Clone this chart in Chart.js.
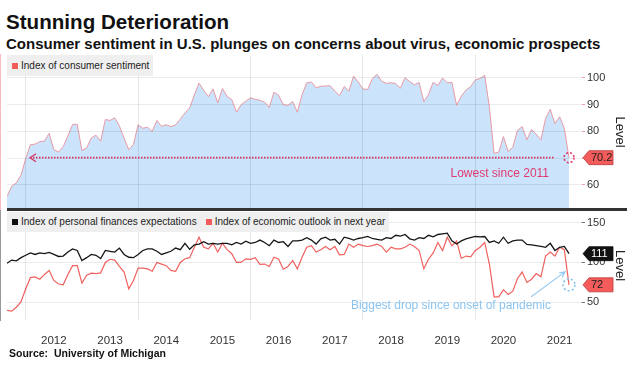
<!DOCTYPE html>
<html><head><meta charset="utf-8">
<script src="https://cdn.jsdelivr.net/npm/chart.js@4.4.1/dist/chart.umd.min.js"></script>
<style>
html,body{margin:0;padding:0;background:#fff;}
body{width:642px;height:376px;position:relative;overflow:hidden;font-family:"Liberation Sans",Arial,sans-serif;color:#111;}
#title{position:absolute;left:6px;top:10px;font-weight:bold;font-size:20.6px;line-height:24px;white-space:nowrap;}
#subtitle{position:absolute;left:6px;top:35px;font-weight:bold;font-size:15px;line-height:17px;white-space:nowrap;}
#source{position:absolute;left:9px;top:347px;font-weight:bold;font-size:10.5px;line-height:13px;white-space:nowrap;}
.box{position:absolute;left:0;width:642px;}
#topBox{top:53px;height:158px;}
#botBox{top:209px;height:167px;}
.legend{position:absolute;background:#efefef;font-size:10px;color:#222;height:21px;line-height:21px;padding:0 4px 0 5px;white-space:nowrap;z-index:3;}
.sw{display:inline-block;width:6px;height:6px;margin-right:3px;vertical-align:0px;}
#sep{position:absolute;left:7px;top:208px;width:620px;height:2.5px;background:#333;z-index:4;}
</style></head>
<body>
<div id="title">Stunning Deterioration</div>
<div id="subtitle">Consumer sentiment in U.S. plunges on concerns about virus, economic prospects</div>
<div class="box" id="topBox"><canvas id="topChart" width="642" height="158"></canvas></div>
<div class="box" id="botBox"><canvas id="botChart" width="642" height="167"></canvas></div>
<div class="legend" style="left:7px;top:55px;"><span class="sw" style="background:#f45b5b"></span>Index of consumer sentiment</div>
<div class="legend" style="left:7px;top:212px;height:20px;line-height:20px;"><span class="sw" style="background:#111"></span>Index of personal finances expectations<span class="sw" style="background:#f45b5b;margin-left:9px"></span>Index of economic outlook in next year</div>
<div id="sep"></div>
<div id="source">Source:&nbsp; University of Michigan</div>
<script>
// ---- data (monthly, Aug 2011 .. Aug 2021) ----
const startYear = 2011;
const startMonth = 8;
const sentiment = [
55.7, 59.5, 60.8, 63.7, 69.9,
75.0, 75.3, 76.2, 76.4, 79.3, 73.2, 72.3, 74.3, 78.3, 82.6, 82.7, 72.9,
73.8, 77.6, 78.6, 76.4, 84.5, 84.1, 85.1, 82.1, 77.5, 73.2, 75.1, 82.5,
81.2, 81.6, 80.0, 84.1, 81.9, 82.5, 81.8, 82.5, 84.6, 86.9, 88.8, 93.6,
98.1, 95.4, 93.0, 95.9, 90.7, 96.1, 93.1, 91.9, 87.2, 90.0, 91.3, 92.6,
92.0, 91.7, 91.0, 89.0, 94.7, 93.5, 90.0, 89.8, 91.2, 87.2, 93.8, 98.2,
98.5, 96.3, 96.9, 97.0, 97.1, 95.1, 93.4, 96.8, 95.1, 100.7, 98.5, 95.9,
95.7, 99.7, 101.4, 98.8, 98.0, 98.2, 97.9, 96.2, 100.1, 98.6, 97.5, 98.3,
91.2, 93.8, 98.4, 97.2, 100.0, 98.2, 98.4, 89.8, 93.2, 95.5, 96.8, 99.3,
99.8, 101.0, 89.1, 71.8, 72.3, 78.1, 72.5, 74.1, 80.4, 81.8, 76.9, 80.7,
79.0, 76.8, 84.9, 88.3, 82.9, 85.5, 81.2, 70.2
];
const personalFinances = [
99, 103, 102, 106, 109, 112, 110, 112, 111, 112.5,
110, 107.5, 108, 113, 117, 115, 102.5, 106, 110, 109,
105, 115, 114, 113, 118, 110, 106.5, 106, 110, 115,
117, 117, 114, 110, 112, 114, 118, 116, 124, 116.5,
122, 123, 126, 123, 124, 123, 124, 124, 122, 125,
123, 126.7, 124, 125, 128, 125, 121, 128, 125, 126,
120, 127, 127, 128, 131, 128, 123,
129.6, 131.6, 128, 129, 123, 131.6, 130, 128, 130, 131,
132.5, 130, 129, 128, 131, 130, 134, 133, 135, 129.6,
128, 131, 130, 134, 132, 135, 135.8, 136.7, 127, 123,
127, 129.6, 131, 132.5, 132, 132.5, 125, 127, 124, 131.6,
124, 127, 128, 128, 122.5, 122, 121, 120, 119, 124,
115, 119, 120, 111
];
const economicOutlook = [
40, 39, 44, 51, 67, 81, 82, 79, 85, 90,
77.5, 73, 72, 85, 96, 96, 74, 84, 86.6, 86,
87, 100, 104, 103, 95, 88, 67, 77.5, 93, 93,
92, 89, 100, 98, 96, 90, 89, 100, 104.6, 106,
119, 131.6, 119, 117, 124, 113, 124, 116, 111, 100,
100.4, 104.6, 104, 106, 97.5, 98, 95, 106.6, 104, 91.6,
95, 102.5, 92, 106.6, 119, 121, 113, 116,
120, 116, 120, 109.6, 110, 123, 119, 123, 121, 120,
121, 123, 120, 113, 119, 117, 117, 119, 123, 120,
115, 92, 104, 112, 125, 115, 131.6, 121, 127, 105,
108, 107, 115, 119, 125, 98, 57, 57, 66, 60,
64, 80, 88, 75, 79, 86, 82, 108, 113, 108,
119, 116, 72
];
const yearLabels = ['2012','2013','2014','2015','2016','2017','2018','2019','2020','2021'];
const topTicks = [60, 70, 80, 90, 100];
const bottomTicks = [50, 100, 150];

// month-end positions on a continuous year axis
const xVals = sentiment.map((_, i) => {
  const m = startMonth - 1 + i;
  return startYear + Math.floor(m / 12) + ((m % 12) + 1) / 12;
});
const pts = arr => arr.map((v, i) => ({x: xVals[i], y: v}));

const FONT = '"Liberation Sans", Arial, sans-serif';
Chart.defaults.font.family = FONT;
Chart.defaults.color = '#333';

const X_MIN = startYear + startMonth / 12;
const X_MAX = 2021.88;

function noPad(s) { s.paddingTop = 0; s.paddingBottom = 0; s.paddingLeft = 0; s.paddingRight = 0; }

function xAxis(showLabels) {
  return {
    type: 'linear', min: X_MIN, max: X_MAX,
    afterBuildTicks: s => {
      const t = [];
      yearLabels.forEach(y => { t.push({value: +y}); t.push({value: +y + 0.5}); });
      s.ticks = t;
    },
    grid: {
      z: 1, drawTicks: false,
      color: c => (c.tick && Number.isInteger(c.tick.value) && c.tick.value % 2 === 0) ? 'rgba(0,0,0,0.09)' : 'rgba(0,0,0,0)'
    },
    border: {display: false},
    ticks: {
      display: showLabels, autoSkip: false, maxRotation: 0, minRotation: 0, padding: 14,
      color: '#333', font: {size: 11.5},
      callback: v => Number.isInteger(v) ? '' : String(Math.floor(v))
    },
    afterFit: s => { s.height = showLabels ? 56 : 0; noPad(s); }
  };
}

function yAxis(min, max, ticks, axisColor) {
  return {
    position: 'right', min, max,
    afterBuildTicks: s => { s.ticks = ticks.map(v => ({value: v})); },
    grid: {z: 1, color: 'rgba(0,0,0,0.08)', tickLength: 4, tickColor: axisColor},
    border: {color: axisColor, width: 1.5},
    ticks: {color: '#333', font: {size: 11}, padding: 2},
    title: {display: true, text: 'Level', color: '#222', font: {size: 13}, padding: {top: 14.5, bottom: 0}},
    afterFit: s => { s.width = 61; noPad(s); }
  };
}

function badge(ctx, x, y, text, fill, stroke, color) {
  ctx.save();
  ctx.beginPath();
  ctx.moveTo(x, y);
  ctx.lineTo(x + 6, y - 7);
  ctx.lineTo(x + 30, y - 7);
  ctx.lineTo(x + 30, y + 7);
  ctx.lineTo(x + 6, y + 7);
  ctx.closePath();
  ctx.fillStyle = fill; ctx.fill();
  ctx.lineWidth = 0.8; ctx.strokeStyle = stroke; ctx.stroke();
  ctx.fillStyle = color; ctx.font = '11px ' + FONT;
  ctx.textAlign = 'left'; ctx.textBaseline = 'middle';
  ctx.fillText(text, x + 8, y + 0.5);
  ctx.restore();
}

const topAnno = {
  id: 'topAnno',
  afterDraw(chart) {
    const {ctx, chartArea: a, scales: {x, y}} = chart;
    const d = chart.data.datasets[0].data;
    const last = d[d.length - 1];
    const px = x.getPixelForValue(last.x), py = y.getPixelForValue(last.y);
    ctx.save();
    const col = '#d4315f';
    ctx.strokeStyle = col; ctx.lineWidth = 1.8;
    ctx.setLineDash([1.5, 1.5]);
    const xl = a.left + 23;
    ctx.beginPath(); ctx.moveTo(xl, py); ctx.lineTo(px - 14, py); ctx.stroke();
    ctx.setLineDash([]); ctx.lineWidth = 1.2;
    ctx.beginPath(); ctx.moveTo(xl + 6, py - 4); ctx.lineTo(xl, py); ctx.lineTo(xl + 6, py + 4); ctx.stroke();
    ctx.strokeStyle = '#e0356a'; ctx.lineWidth = 1.5; ctx.setLineDash([2, 2]);
    ctx.beginPath(); ctx.arc(px, py, 5, 0, Math.PI * 2); ctx.stroke();
    ctx.setLineDash([]);
    ctx.fillStyle = '#e03a6e'; ctx.font = '12px ' + FONT;
    ctx.textAlign = 'right'; ctx.textBaseline = 'middle';
    ctx.fillText('Lowest since 2011', px - 20, py + 16);
    ctx.restore();
    badge(ctx, a.right + 2, py, last.y.toFixed(1), '#f45b5b', '#b83a3a', '#222');
  }
};

const botAnno = {
  id: 'botAnno',
  afterDraw(chart) {
    const {ctx, chartArea: a, scales: {x, y}} = chart;
    const dk = chart.data.datasets[0].data, rd = chart.data.datasets[1].data;
    const lk = dk[dk.length - 1], lr = rd[rd.length - 1];
    const px = x.getPixelForValue(lr.x), py = y.getPixelForValue(lr.y);
    const blue = '#8cc4f0';
    ctx.save();
    ctx.strokeStyle = blue; ctx.lineWidth = 1.5; ctx.setLineDash([2.2, 2]);
    ctx.beginPath(); ctx.arc(px, py, 6, 0, Math.PI * 2); ctx.stroke();
    ctx.setLineDash([]); ctx.lineWidth = 1.1;
    const x1 = px - 38, y1 = py + 12, x2 = px - 4, y2 = py - 13;
    ctx.beginPath(); ctx.moveTo(x1, y1); ctx.lineTo(x2, y2); ctx.stroke();
    const ang = Math.atan2(y2 - y1, x2 - x1);
    ctx.beginPath();
    ctx.moveTo(x2 - 6 * Math.cos(ang - 0.45), y2 - 6 * Math.sin(ang - 0.45));
    ctx.lineTo(x2, y2);
    ctx.lineTo(x2 - 6 * Math.cos(ang + 0.45), y2 - 6 * Math.sin(ang + 0.45));
    ctx.stroke();
    ctx.fillStyle = blue; ctx.font = '12px ' + FONT;
    ctx.textAlign = 'right'; ctx.textBaseline = 'middle';
    ctx.fillText('Biggest drop since onset of pandemic', px - 18, py + 21);
    ctx.restore();
    badge(ctx, a.right + 2, y.getPixelForValue(lk.y), String(Math.round(lk.y)), '#111', '#111', '#fff');
    badge(ctx, a.right + 2, py, String(Math.round(lr.y)), '#f45b5b', '#b83a3a', '#222');
  }
};

new Chart(document.getElementById('topChart'), {
  type: 'line',
  data: {datasets: [{
    label: 'Index of consumer sentiment', data: pts(sentiment),
    fill: 'start', backgroundColor: '#cbe3fb', borderColor: '#e89aa5', borderWidth: 1,
    pointRadius: 0, tension: 0
  }]},
  options: {
    responsive: false, animation: false, devicePixelRatio: 1,
    layout: {padding: {left: 7, top: 2, bottom: 2, right: 0}},
    plugins: {legend: {display: false}, tooltip: {enabled: false}},
    scales: {x: xAxis(false), y: yAxis(51, 108.6, topTicks, '#f3a3ab')}
  },
  plugins: [topAnno]
});

new Chart(document.getElementById('botChart'), {
  type: 'line',
  data: {datasets: [
    {label: 'Index of personal finances expectations', data: pts(personalFinances),
     borderColor: '#161616', borderWidth: 1.3, pointRadius: 0, fill: false, tension: 0},
    {label: 'Index of economic outlook in next year', data: pts(economicOutlook),
     borderColor: '#f0625f', borderWidth: 1.2, pointRadius: 0, fill: false, tension: 0}
  ]},
  options: {
    responsive: false, animation: false, devicePixelRatio: 1,
    layout: {padding: {left: 7, top: 2, bottom: 0, right: 0}},
    plugins: {legend: {display: false}, tooltip: {enabled: false}},
    scales: {x: xAxis(true), y: yAxis(28, 164.4, bottomTicks, '#777')}
  },
  plugins: [botAnno]
});
</script>
</body></html>
